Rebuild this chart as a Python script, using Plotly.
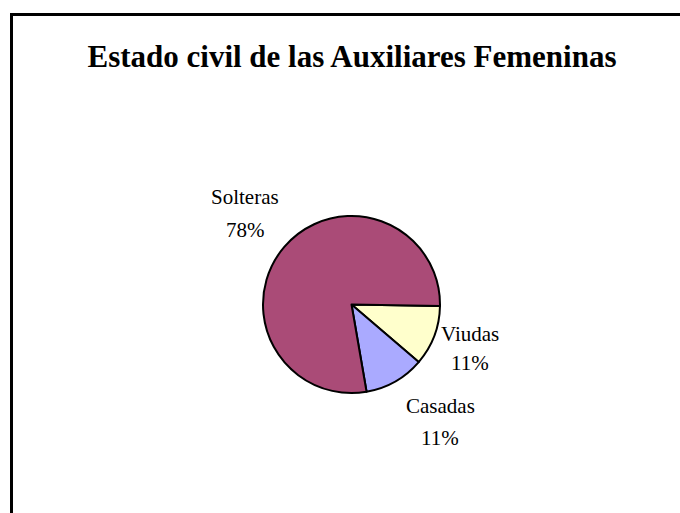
import plotly.graph_objects as go

labels = ["Viudas", "Casadas", "Solteras"]
values = [11, 11, 78]
pct_labels = ["11%", "11%", "78%"]
colors = ["#FFFFCC", "#AAAAFF", "#AA4B77"]

W, H = 680, 513
cx, cy, r = 351.5, 304.5, 88.5

fig = go.Figure(go.Pie(
    labels=labels, values=values, sort=False, direction="clockwise", rotation=91,
    marker=dict(colors=colors, line=dict(color="black", width=2)),
    textinfo="none", hoverinfo="label+percent", showlegend=False,
    domain=dict(x=[(cx - r) / W, (cx + r) / W], y=[(H - cy - r) / H, (H - cy + r) / H]),
))

font_fam = "Liberation Serif, Times New Roman, serif"
# label positions (pixels) for name / percent
label_pos = {"Solteras": (245, 197, 230), "Viudas": (470, 334, 363), "Casadas": (440, 406, 438)}
annotations = []
for lab, pct in zip(labels, pct_labels):
    x, y1, y2 = label_pos[lab]
    for txt, yy in ((lab, y1), (pct, y2)):
        annotations.append(dict(text=txt, x=x / W, y=1 - yy / H, xref="paper", yref="paper",
                                showarrow=False, xanchor="center", yanchor="middle",
                                font=dict(family=font_fam, size=21, color="black")))

fig.update_layout(
    width=W, height=H, margin=dict(l=0, r=0, t=0, b=0),
    paper_bgcolor="white", plot_bgcolor="white",
    title=dict(text="<b>Estado civil de las Auxiliares Femeninas</b>", x=352 / W, xanchor="center",
               y=1 - 56 / H, yanchor="middle",
               font=dict(family=font_fam, size=31, color="black")),
    annotations=annotations,
    shapes=[dict(type="rect", xref="paper", yref="paper", x0=11.5 / W, x1=1.2, y0=-0.2, y1=1 - 14.5 / H,
                 line=dict(color="black", width=3), fillcolor="rgba(0,0,0,0)", layer="above")],
)

fig.write_html("out.html", config={"displayModeBar": False},
               post_script="document.body.style.margin='0px';")
